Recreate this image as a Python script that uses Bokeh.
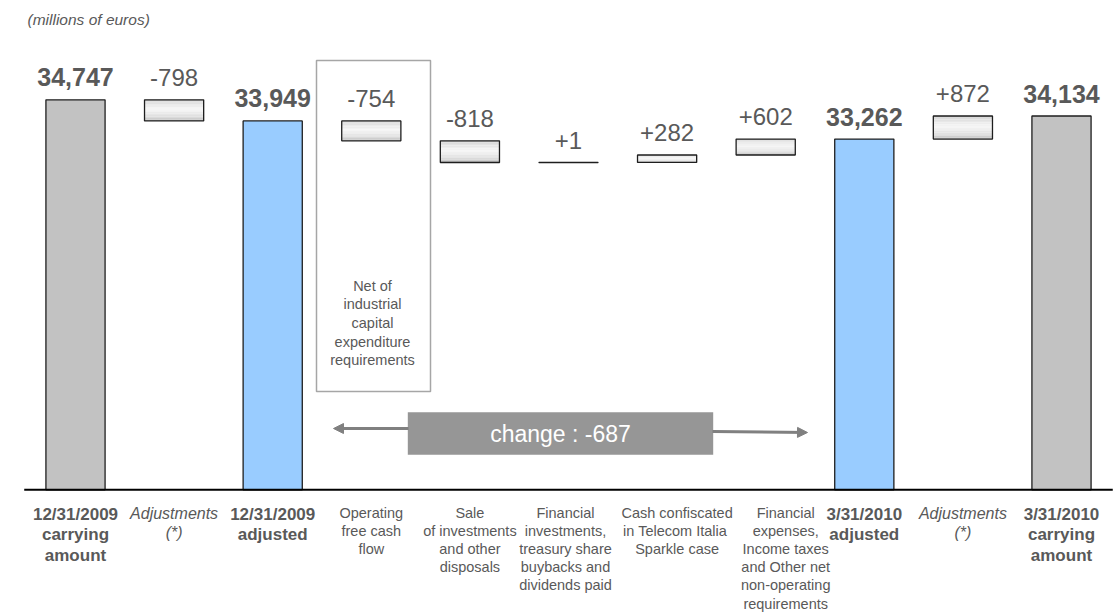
from bokeh.plotting import figure
from bokeh.models import Range1d, Arrow, NormalHead
from bokeh.core.properties import value
from bokeh.embed import file_html
from bokeh.resources import INLINE

# Net financial debt bridge (millions of euros)
categories = [
    "12/31/2009\ncarrying\namount",
    "Adjustments\n(*)",
    "12/31/2009\nadjusted",
    "Operating\nfree cash\nflow",
    "Sale\nof investments\nand other\ndisposals",
    "Financial\ninvestments,\ntreasury share\nbuybacks and\ndividends paid",
    "Cash confiscated\nin  Telecom Italia\nSparkle case",
    "Financial\nexpenses,\nIncome taxes\nand Other net\nnon-operating\nrequirements",
    "3/31/2010\nadjusted",
    "Adjustments\n(*)",
    "3/31/2010\ncarrying\namount",
]
amounts = [34747, -798, 33949, -754, -818, 1, 282, 602, 33262, 872, 34134]
step_kind = ["total", "delta", "total", "delta", "delta", "delta",
             "delta", "delta", "total", "delta", "total"]
label_style = ["bold", "italic", "bold", "normal", "normal", "normal",
               "normal", "normal", "bold", "italic", "bold"]
unit_note = "(millions of euros)"
ofcf_note = "Net of\nindustrial\ncapital\nexpenditure\nrequirements"

# ---- canvas and scales -------------------------------------------------
W, H = 1118, 613
SLOT = 98.6                      # pixels per category
X_START = -75.0 / SLOT
X_END = X_START + W / SLOT
AXIS_BASE = 20000                # truncated value axis starts here
Y_START, Y_END = 15324, 38502
U = (Y_END - Y_START) / H        # value units per pixel


def py(px):
    """Pixel row (from top) to value units."""
    return Y_END - px * U


def px_x(px):
    """Pixel column to category units."""
    return X_START + px / SLOT


FONT = value("Liberation Sans")
TXT = "#595959"
OUTLINE = "#1e1e1e"
BAR_W = 0.6
BASELINE_FIX = 0.4               # alphabetic baseline sits this many em low
LABEL_NUDGE_PX = {5: -3, 6: 10, 7: 20}   # spread the crowded labels

p = figure(width=W, height=H, output_backend="svg", toolbar_location=None,
           x_range=Range1d(X_START, X_END), y_range=Range1d(Y_START, Y_END),
           x_axis_location=None, y_axis_location=None, title=None,
           min_border=0, background_fill_color="white",
           border_fill_color="white")
p.outline_line_color = None
p.xgrid.visible = False
p.ygrid.visible = False

# ---- waterfall geometry from the amounts --------------------------------
xs = list(range(len(amounts)))
bottoms, tops = [], []
level = None
for amt, kind in zip(amounts, step_kind):
    if kind == "total":
        level = amt
        bottoms.append(AXIS_BASE)
        tops.append(amt)
    else:
        new_level = level + amt
        bottoms.append(min(level, new_level))
        tops.append(max(level, new_level))
        level = new_level

tot_idx = [i for i in xs if step_kind[i] == "total"]
del_idx = [i for i in xs if step_kind[i] == "delta"]

# total bars: carrying amounts grey, adjusted amounts light blue
p.vbar(x=[xs[i] for i in tot_idx], width=BAR_W,
       bottom=[bottoms[i] for i in tot_idx], top=[tops[i] for i in tot_idx],
       fill_color=["#99ccff" if "adjusted" in categories[i] else "#c2c2c2"
                   for i in tot_idx],
       line_color=OUTLINE, line_width=1.3)


# floating change boxes with a soft vertical sheen
def shade(t):
    stops = [(0.0, 200), (0.12, 222), (0.45, 246), (0.8, 222), (1.0, 188)]
    g = stops[-1][1]
    for (t0, g0), (t1, g1) in zip(stops, stops[1:]):
        if t <= t1:
            g = g0 + (g1 - g0) * (t - t0) / (t1 - t0)
            break
    g = int(round(g))
    return "#%02x%02x%02x" % (g, g, g)


N_STRIPES = 14
sl, sr, st, sb, sc = [], [], [], [], []
for i in del_idx:
    hgt = tops[i] - bottoms[i]
    for k in range(N_STRIPES):
        sl.append(xs[i] - BAR_W / 2)
        sr.append(xs[i] + BAR_W / 2)
        st.append(tops[i] - hgt * k / N_STRIPES)
        sb.append(tops[i] - hgt * (k + 1) / N_STRIPES)
        sc.append(shade((k + 0.5) / N_STRIPES))
p.quad(left=sl, right=sr, top=st, bottom=sb, fill_color=sc, line_color=None)
p.quad(left=[xs[i] - BAR_W / 2 for i in del_idx],
       right=[xs[i] + BAR_W / 2 for i in del_idx],
       top=[tops[i] for i in del_idx], bottom=[bottoms[i] for i in del_idx],
       fill_color=None, line_color=OUTLINE, line_width=1.3)

# baseline
p.segment(x0=[xs[0] - 0.52], y0=[AXIS_BASE], x1=[xs[-1] + 0.52],
          y1=[AXIS_BASE], line_color="black", line_width=2)

# ---- value labels --------------------------------------------------------
GAP = 12.5
TOT_FS, DEL_FS = 25, 24
p.text(x=[xs[i] for i in tot_idx],
       y=[tops[i] + (GAP + BASELINE_FIX * TOT_FS) * U for i in tot_idx],
       text=[f"{amounts[i]:,}" for i in tot_idx],
       text_align="center", text_baseline="alphabetic", text_font=FONT,
       text_font_size=f"{TOT_FS}px", text_font_style="bold", text_color=TXT)
p.text(x=[xs[i] for i in del_idx],
       y=[tops[i] + (GAP + BASELINE_FIX * DEL_FS) * U for i in del_idx],
       text=[f"{amounts[i]:+,}" for i in del_idx],
       text_align="center", text_baseline="alphabetic", text_font=FONT,
       text_font_size=f"{DEL_FS}px", text_color=TXT)

# ---- category labels under the baseline ---------------------------------
LABEL_TOP = py(504)
for style, size, lh in [("bold", "17px", 1.08), ("italic", "16px", 1.14),
                        ("normal", "14.5px", 1.14)]:
    idx = [i for i in xs if label_style[i] == style]
    p.text(x=[xs[i] + LABEL_NUDGE_PX.get(i, 0) / SLOT for i in idx],
           y=[LABEL_TOP] * len(idx),
           text=[categories[i] for i in idx], text_align="center",
           text_baseline="top", text_font=FONT, text_font_size=size,
           text_font_style=style, text_line_height=lh, text_color=TXT)

# unit note
p.text(x=[px_x(27)], y=[py(19)], text=[unit_note], text_align="left",
       text_baseline="middle", text_font=FONT, text_font_size="15.5px",
       text_font_style="italic", text_color=TXT)

# framed note on operating free cash flow
p.quad(left=[px_x(316)], right=[px_x(430)], top=[py(60)], bottom=[py(391)],
       fill_color=None, line_color="#a6a6a6", line_width=1.5)
p.text(x=[px_x(372)], y=[py(277)], text=[ofcf_note], text_align="center",
       text_baseline="top", text_font=FONT, text_font_size="14.5px",
       text_line_height=1.17, text_color=TXT)

# ---- overall change between the adjusted amounts -------------------------
adj = [i for i in tot_idx if "adjusted" in categories[i]]
change = amounts[adj[-1]] - amounts[adj[0]]
ARROW_GREY = "#808080"
p.add_layout(Arrow(end=NormalHead(size=10, fill_color=ARROW_GREY,
                                  line_color=ARROW_GREY),
                   x_start=px_x(408), y_start=py(428),
                   x_end=px_x(333), y_end=py(428),
                   line_color=ARROW_GREY, line_width=3))
p.add_layout(Arrow(end=NormalHead(size=10, fill_color=ARROW_GREY,
                                  line_color=ARROW_GREY),
                   x_start=px_x(712), y_start=py(431),
                   x_end=px_x(807), y_end=py(432),
                   line_color=ARROW_GREY, line_width=3))
p.quad(left=[px_x(407.3)], right=[px_x(712.7)], top=[py(411.7)],
       bottom=[py(454.3)], fill_color="#969696", line_color=None)
p.text(x=[px_x(560)], y=[py(443 - BASELINE_FIX * 23)],
       text=[f"change : {change:,}"],
       text_align="center", text_baseline="alphabetic", text_font=FONT,
       text_font_size="23px", text_color="white")

open("out.html", "w").write(file_html(p, INLINE))
